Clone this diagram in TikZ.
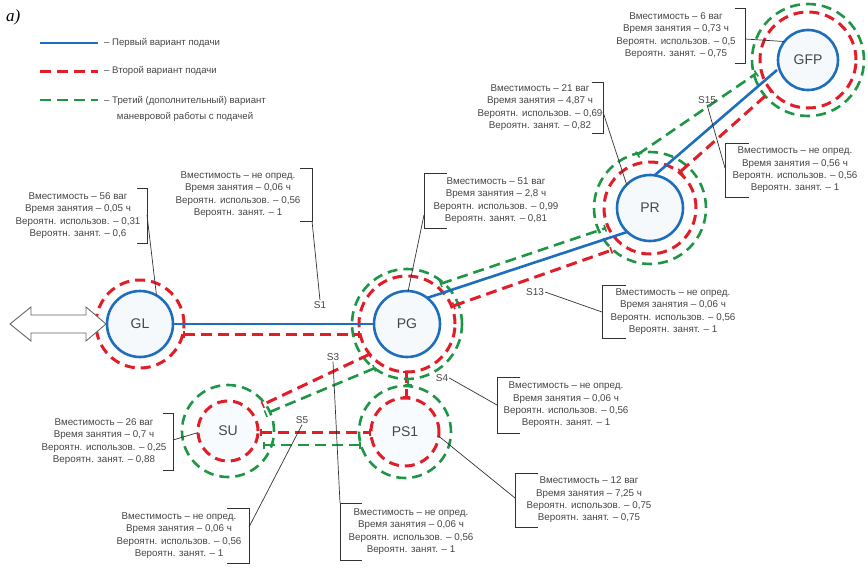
\documentclass[tikz,border=0pt]{standalone}
\usepackage{fontspec}
\setmainfont{Liberation Sans}
\newfontfamily\serifit{Liberation Serif}
\usetikzlibrary{calc,arrows.meta}
\definecolor{cblue}{RGB}{30,110,190}
\definecolor{cred}{RGB}{225,30,40}
\definecolor{cgreen}{RGB}{30,150,70}
\definecolor{ctext}{RGB}{70,70,70}
\newcommand\infotxt[4]{Вместимость – #1\\Время занятия – #2\\Вероятн. использов. – #3\\Вероятн. занят. – #4}
\begin{document}
\begin{tikzpicture}[x=1pt,y=-1pt,
  blueline/.style={draw=cblue,line width=2.6pt},
  redline/.style={draw=cred,line width=3pt,dash pattern=on 11pt off 6pt},
  greenline/.style={draw=cgreen,line width=2.6pt,dash pattern=on 11pt off 6pt},
  ticks/.style={{Bar[width=7pt,line width=1.6pt]}-{Bar[width=7pt,line width=1.6pt]}},
  stn/.style={circle,inner sep=0pt,outer sep=0pt,draw=cblue,line width=2.6pt,fill=cblue!4,
    font=\fontsize{14}{14}\selectfont,text=ctext},
  ring/.style={circle,inner sep=0pt,outer sep=0pt},
  redring/.style={draw=cred,line width=3pt,dash pattern=on 10pt off 6pt},
  greenring/.style={draw=cgreen,line width=2.6pt,dash pattern=on 10pt off 6pt},
  info/.style={align=center,font=\fontsize{9.8}{12.3}\selectfont,text=ctext,inner sep=0pt},
  legtext/.style={align=center,font=\fontsize{9.6}{16}\selectfont,text=ctext,inner sep=0pt},
  slab/.style={font=\fontsize{10}{10}\selectfont,text=ctext,inner sep=1pt},
  brk/.style={draw=black!80,line width=0.8pt},
  lead/.style={draw=black!80,line width=0.7pt},
]
\fill[white] (0,0) rectangle (868,568);
\useasboundingbox (0,0) rectangle (868,568);

% caption
\node[font=\serifit\itshape\fontsize{17}{17}\selectfont,anchor=west,inner sep=0pt] (cap) at (6,17) {а)};

% legend
\coordinate (L1a) at (40,43); \coordinate (L1b) at (98,43);
\coordinate (L2a) at (40,71); \coordinate (L2b) at (98,71);
\coordinate (L3a) at (40,100); \coordinate (L3b) at (98,100);
\draw[blueline] (L1a) -- (L1b);
\draw[redline] (L2a) -- (L2b);
\draw[greenline] (L3a) -- (L3b);
\node[legtext,anchor=west] (T1) at (104,43) {– Первый вариант подачи};
\node[legtext,anchor=west] (T2) at (104,71) {– Второй вариант подачи};
\node[legtext,anchor=west] (T3) at (104,108.5) {– Третий (дополнительный) вариант\\маневровой работы с подачей};

% stations
\node[stn,minimum size=66pt] (GL) at (140,324) {GL};
\node[stn,minimum size=66pt] (PG) at (407,324) {PG};
\node[stn,minimum size=66pt] (PR) at (650,208) {PR};
\node[stn,minimum size=60pt] (GFP) at (808,60) {GFP};
\node[ring,redring,minimum size=60pt,fill=cblue!3,text=ctext,font=\fontsize{14}{14}\selectfont] (SU) at (228,431) {SU};
\node[ring,redring,minimum size=68pt,fill=cblue!3,text=ctext,font=\fontsize{14}{14}\selectfont] (PS1) at (405,432) {PS1};

% rings
\node[ring,redring,minimum size=88pt] (GLr) at (GL) {};
\node[ring,redring,minimum size=96pt] (PGr) at (PG) {};
\node[ring,greenring,minimum size=110pt] (PGg) at (PG) {};
\node[ring,redring,minimum size=92pt] (PRr) at (PR) {};
\node[ring,greenring,minimum size=112pt] (PRg) at (PR) {};
\node[ring,redring,minimum size=96pt] (GFPr) at (GFP) {};
\node[ring,greenring,minimum size=112pt] (GFPg) at (GFP) {};
\node[ring,greenring,minimum size=92pt] (SUg) at (SU) {};
\node[ring,greenring,minimum size=92pt] (PS1g) at (PS1) {};

% double arrow at GL
\draw[draw=black!60,line width=0.9pt,fill=white]
  (10,324) -- (31,307) -- (31,315) -- (86,315) -- (86,307) -- (106,324)
  -- (86,341) -- (86,333) -- (31,333) -- (31,341) -- cycle;

% connectors
\draw[blueline] (GL.east) -- (PG.west);
\draw[redline,ticks] ($(GL)+(43,10)$) -- ($(PG)+(-47,10)$);
\draw[greenline,ticks] ($(PG)+(33,-40)$) -- ($(PR)+(-44,20)$);
\draw[blueline] ($(PG)+(20,-26)$) -- ($(PR)+(-23,24)$);
\draw[redline,ticks] ($(PG)+(46,-18)$) -- ($(PR)+(-38,42)$);
\draw[greenline,ticks] ($(PR)+(-13,-53)$) -- ($(GFP)+(-51,13)$);
\draw[blueline] ($(PR)+(5,-33)$) -- ($(GFP)+(-31,10)$);
\draw[redline,ticks] ($(PR)+(30,-36)$) -- ($(GFP)+(-36,30)$);
\draw[redline,ticks] ($(PG)+(-37,30)$) -- ($(SU)+(34,-26)$);
\draw[greenline,ticks] ($(PG)+(-32,44)$) -- ($(SU)+(37,-17)$);
\draw[redline,ticks] ($(SU)+(32,1)$) -- ($(PS1)+(-34,0)$);
\draw[greenline,ticks] ($(SU)+(35,14)$) -- ($(PS1)+(-44,13)$);
\draw[redline,ticks] ($(PG)+(-1,47)$) -- ($(PS1)+(1,-34)$);
\draw[greenline,ticks] ($(PG)+(1,54)$) -- ($(PS1)+(3,-46)$);

% segment labels
\node[slab] (S1) at (320,305) {S1};
\node[slab] (S3) at (333,357) {S3};
\node[slab] (S4) at (442,378) {S4};
\node[slab] (S5) at (302,420) {S5};
\node[slab] (S13) at (535,292) {S13};
\node[slab] (S15) at (707,100) {S15};

% info boxes
\node[info] (iGFP) at (676,35.5) {\infotxt{6 ваг}{0,73 ч}{0,5}{0,75}};
\node[info] (iPR) at (540,107.5) {\infotxt{21 ваг}{4,87 ч}{0,69}{0,82}};
\node[info] (iS15) at (795,170) {\infotxt{не опред.}{0,56 ч}{0,56}{1}};
\node[info] (iS1) at (238,194.5) {\infotxt{не опред.}{0,06 ч}{0,56}{1}};
\node[info] (iGL) at (78,215.5) {\infotxt{56 ваг}{0,05 ч}{0,31}{0,6}};
\node[info] (iPG) at (496,200.5) {\infotxt{51 ваг}{2,8 ч}{0,99}{0,81}};
\node[info] (iS13) at (673,311.5) {\infotxt{не опред.}{0,06 ч}{0,56}{1}};
\node[info] (iS4) at (566,405) {\infotxt{не опред.}{0,06 ч}{0,56}{1}};
\node[info] (iSU) at (104,441.5) {\infotxt{26 ваг}{0,7 ч}{0,25}{0,88}};
\node[info] (iPS1) at (589,500) {\infotxt{12 ваг}{7,25 ч}{0,75}{0,75}};
\node[info] (iS3) at (411,531.5) {\infotxt{не опред.}{0,06 ч}{0,56}{1}};
\node[info] (iS5) at (179,535.5) {\infotxt{не опред.}{0,06 ч}{0,56}{1}};

% brackets
\draw[brk] (735,8) -- (745,8) -- (745,63) -- (735,63);
\draw[brk] (592,82) -- (603,82) -- (603,133) -- (592,133);
\draw[brk] (749,143) -- (725,143) -- (725,197) -- (749,197);
\draw[brk] (300,168) -- (312,168) -- (312,221) -- (300,221);
\draw[brk] (137,188) -- (147,188) -- (147,243) -- (137,243);
\draw[brk] (447,173) -- (424,173) -- (424,228) -- (447,228);
\draw[brk] (626,285) -- (602,285) -- (602,338) -- (626,338);
\draw[brk] (520,377) -- (497,377) -- (497,433) -- (520,433);
\draw[brk] (163,413) -- (173,413) -- (173,470) -- (163,470);
\draw[brk] (538,473) -- (515,473) -- (515,527) -- (538,527);
\draw[brk] (362,503) -- (340,503) -- (340,560) -- (362,560);
\draw[brk] (227,508) -- (249,508) -- (249,563) -- (227,563);

% leaders
\coordinate (bGFP) at (745,39);
\coordinate (bPR) at (603,112);
\coordinate (bS15) at (725,168);
\coordinate (bS1) at (312,221);
\coordinate (bGL) at (147,215);
\coordinate (bPG) at (424,215);
\coordinate (bS13) at (602,312);
\coordinate (bS4) at (497,405);
\coordinate (bSU) at (173,440);
\coordinate (bPS1) at (515,498);
\coordinate (bS3) at (340,503);
\coordinate (bS5) at (249,527);
\draw[lead] (bGFP) -- (GFP.142);
\draw[lead] (bPR) -- (PR.135);
\draw[lead] (S15.south) -- (bS15);
\draw[lead] (bS1) -- (S1.north);
\draw[lead] (bGL) -- (GL.60);
\draw[lead] (bPG) -- (PG.88);
\draw[lead] (S13.east) -- (bS13);
\draw[lead] (S4.east) -- (bS4);
\draw[lead] (bSU) -- (SU.183);
\draw[lead] (PS1.-7) -- (bPS1);
\draw[lead] (S3.south) -- (bS3);
\draw[lead] (bS5) -- (S5.south);
\end{tikzpicture}
\end{document}
